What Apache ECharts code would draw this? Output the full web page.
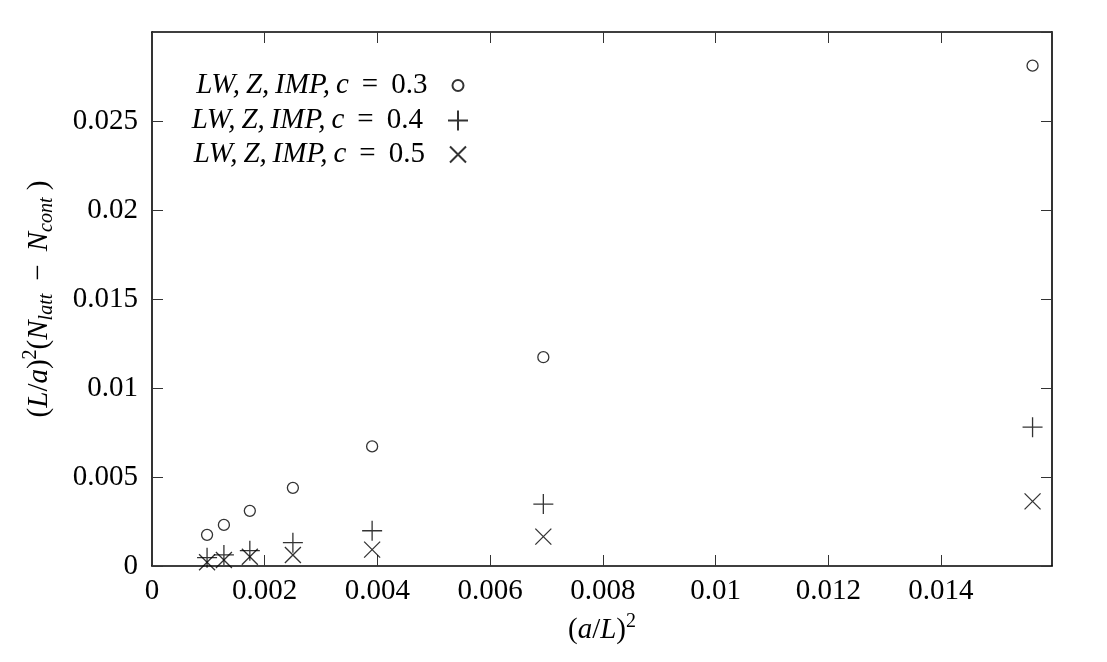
<!DOCTYPE html>
<html>
<head>
<meta charset="utf-8">
<script src="https://cdn.jsdelivr.net/npm/echarts@6/dist/echarts.min.js"></script>
<style>
html,body{margin:0;padding:0;background:#fff;}
#chart{width:1107px;height:662px;}
</style>
</head>
<body>
<div id="chart"></div>
<script>
// (a/L)^2 values
const xValues = [0.000977, 0.001276, 0.001736, 0.0025, 0.003906, 0.006944, 0.015625];
// (L/a)^2 (N_latt - N_cont)
const c03 = [0.00175, 0.00231, 0.00310, 0.00439, 0.00672, 0.01173, 0.02811];
const c04 = [0.00047, 0.00062, 0.00086, 0.00131, 0.00198, 0.00348, 0.00780];
const c05 = [0.00021, 0.00034, 0.00052, 0.00062, 0.00092, 0.00165, 0.00363];
const seriesNames = ['LW,Z,IMP,c = 0.3', 'LW,Z,IMP,c = 0.4', 'LW,Z,IMP,c = 0.5'];
const xTicks = { min: 0, max: 0.01597, interval: 0.002 };
const yTicks = { min: 0, max: 0.03, interval: 0.005 };

const SERIF = '"Liberation Serif","DejaVu Serif",serif';
const FS = 29;
const pairs = (ys) => xValues.map((x, i) => [x, ys[i]]);
const fmt = (v) => String(parseFloat(v.toFixed(6)));

const PLUS = 'path://M0,10L20,10M10,0L10,20';
const CROSS = 'path://M0,0L16,16M0,16L16,0';

const markStyle = { color: 'rgba(0,0,0,0)', borderColor: '#000', borderWidth: 1.3 };

const richText = {
  i: { fontFamily: SERIF, fontStyle: 'italic', fontSize: FS, lineHeight: 36, color: '#000' },
  n: { fontFamily: SERIF, fontSize: FS, lineHeight: 36, color: '#000' },
  sup: { fontFamily: SERIF, fontSize: 20, lineHeight: 20, verticalAlign: 'top', color: '#000' },
  sub: { fontFamily: SERIF, fontStyle: 'italic', fontSize: 20, lineHeight: 20, verticalAlign: 'bottom', color: '#000' }
};

function legendFor(idx, symbolW, symbolH, top) {
  return {
    data: [seriesNames[idx]],
    orient: 'vertical',
    align: 'right',
    right: 1107 - (464 + symbolW / 2),
    top: top,
    itemWidth: symbolW,
    itemHeight: symbolH,
    selectedMode: false,
    formatter: (name) => {
      const p = name.split(' = ');
      return '{i|' + p[0].split(',').join(',\u2009') + '}{n|\u2009 = \u2009' + p[1] + '}';
    },
    textStyle: { fontFamily: SERIF, fontSize: FS, color: '#000', padding: [0, 20, 0, 0], rich: richText }
  };
}

const axisCommon = {
  type: 'value',
  axisLine: { show: true, onZero: false, lineStyle: { color: '#000', width: 1.6 } },
  axisTick: { show: true, inside: true, length: 11, lineStyle: { color: '#333', width: 1 } },
  splitLine: { show: false }
};

const option = {
  backgroundColor: '#fff',
  animation: false,
  grid: { left: 152, right: 55, top: 32, bottom: 96 },
  legend: [
    legendFor(0, 11, 11, 66),
    legendFor(1, 20, 20, 101),
    legendFor(2, 16, 16, 135)
  ],
  xAxis: [
    Object.assign({}, axisCommon, {
      position: 'bottom', min: xTicks.min, max: xTicks.max, interval: xTicks.interval,
      axisLabel: { showMaxLabel: false, margin: 11, fontFamily: SERIF, fontSize: FS, color: '#000', formatter: fmt },
      name: '{n|(}{i|a}{n|/}{i|L}{n|)}{sup|2}',
      nameLocation: 'middle', nameGap: 46,
      nameTextStyle: { rich: richText }
    }),
    Object.assign({}, axisCommon, {
      position: 'top', min: xTicks.min, max: xTicks.max, interval: xTicks.interval,
      axisLabel: { show: false }
    })
  ],
  yAxis: [
    Object.assign({}, axisCommon, {
      position: 'left', min: yTicks.min, max: yTicks.max, interval: yTicks.interval,
      axisLabel: { showMaxLabel: false, margin: 14, fontFamily: SERIF, fontSize: FS, color: '#000', formatter: fmt },
      name: '{n|(}{i|L}{n|/}{i|a}{n|)}{sup|2}{n|(}{i|N}{sub|latt}{n| \u2009−\u2009 }{i|N}{sub|cont}{n| )}',
      nameLocation: 'middle', nameGap: 95, nameRotate: 90,
      nameTextStyle: { rich: richText }
    }),
    Object.assign({}, axisCommon, {
      position: 'right', min: yTicks.min, max: yTicks.max, interval: yTicks.interval,
      axisLabel: { show: false }
    })
  ],
  series: [
    { name: seriesNames[0], type: 'scatter', xAxisIndex: 0, yAxisIndex: 0, data: pairs(c03),
      symbol: 'circle', symbolSize: 11, itemStyle: markStyle },
    { name: seriesNames[1], type: 'scatter', xAxisIndex: 0, yAxisIndex: 0, data: pairs(c04),
      symbol: PLUS, symbolSize: 20, itemStyle: markStyle },
    { name: seriesNames[2], type: 'scatter', xAxisIndex: 0, yAxisIndex: 0, data: pairs(c05),
      symbol: CROSS, symbolSize: 16, itemStyle: markStyle }
  ]
};

const chart = echarts.init(document.getElementById('chart'), null, { renderer: 'canvas' });
chart.setOption(option);
</script>
</body>
</html>
